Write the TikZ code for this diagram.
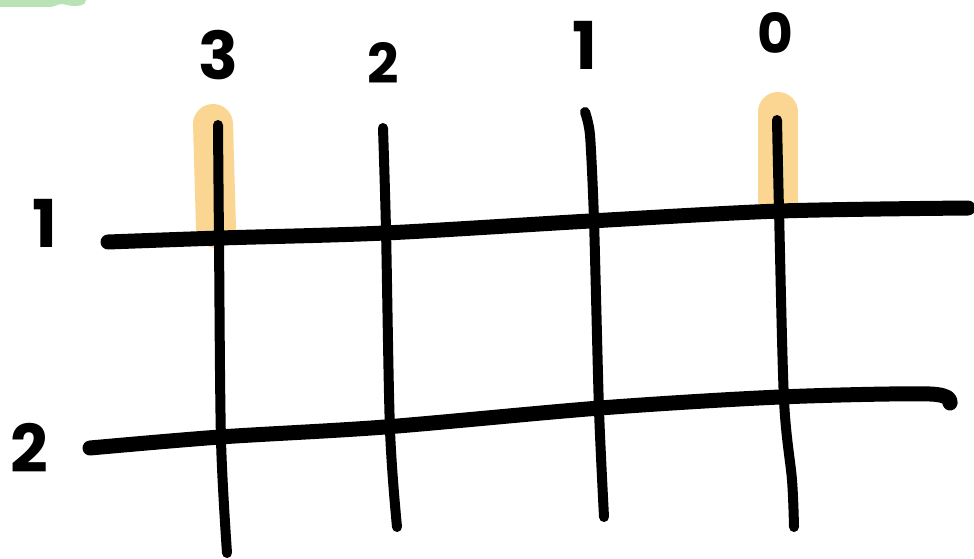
\documentclass[tikz,border=0pt]{standalone}
\usepackage{fontspec}
\setmainfont{Poppins}
\definecolor{hl}{HTML}{FBD592}
\definecolor{blob}{HTML}{B9E3B4}
\begin{document}
\begin{tikzpicture}[x=1pt,y=-1pt,
  hline/.style={line width=15pt,line cap=round,line join=round},
  vline/.style={line width=10pt,line cap=round,line join=round},
  hilite/.style={line width=40pt,line cap=round,draw=hl},
  digit/.style={inner sep=0pt,font=\fontsize{66}{66}\selectfont\bfseries}]
\useasboundingbox (0,0) rectangle (974,559);
\fill[white] (0,0) rectangle (974,559);
% green blob
\fill[blob] (0,-5) -- (86,-5) -- (86,0) to[out=-90,in=0] (72,6) to[out=180,in=0] (62,4) to[out=180,in=0] (50,7) -- (0,7) -- cycle;
% highlights
\draw[hilite] (213,124) -- (216,228);
\draw[hilite] (778,112) -- (778,200);
% horizontal lines
\draw[hline] plot[smooth] coordinates {(108,242) (220,238) (385,233) (590,221) (780,211) (968,208)};
\draw[hline] plot[smooth] coordinates {(90,448) (220,437) (385,427) (600,408) (780,397) (930,394) (950,403)};
% vertical lines
\draw[vline] plot[smooth] coordinates {(218,125) (219,240) (221,440) (227,553)};
\draw[vline] plot[smooth] coordinates {(383,128) (386,230) (390,430) (397,527)};
\draw[vline] plot[smooth,tension=0.4] coordinates {(585,112) (590,135) (594,220) (599,410) (604,517)};
\draw[vline] plot[smooth] coordinates {(777,120) (779,210) (784,400) (792,480) (794,527)};
% labels
\node[digit] (c3) at (218,55) {3};
\node[digit,font=\fontsize{55}{55}\selectfont\bfseries] (c2) at (383,63) {2};
\node[digit] (c1) at (585,45) {1};
\node[digit,font=\fontsize{55}{55}\selectfont\bfseries] (c0) at (775,33) {0};
\node[digit] (r1) at (45,223) {1};
\node[digit] (r2) at (29,448) {2};
\end{tikzpicture}
\end{document}
